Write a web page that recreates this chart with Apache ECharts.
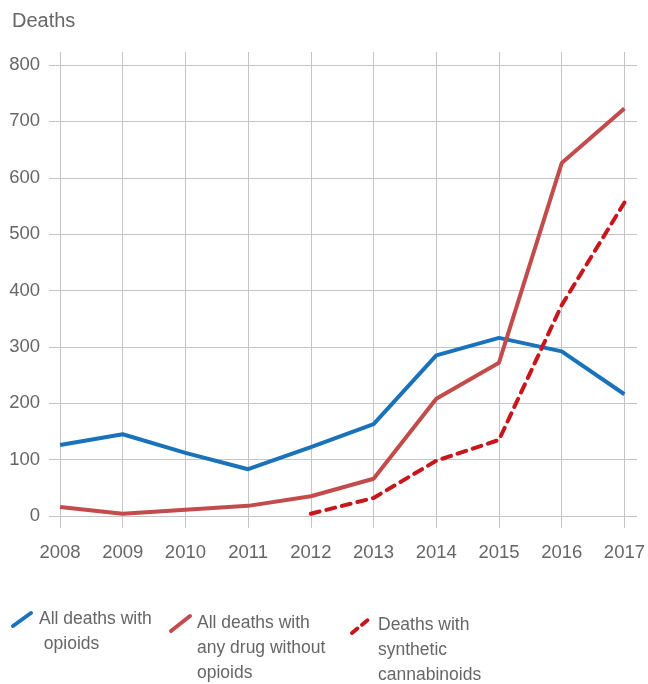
<!DOCTYPE html>
<html>
<head>
<meta charset="utf-8">
<script src="https://cdn.jsdelivr.net/npm/echarts@6/dist/echarts.min.js"></script>
<style>
  html, body { margin: 0; padding: 0; background: #fff; }
  #chart { width: 648px; height: 684px; }
</style>
</head>
<body>
<div id="chart"></div>
<script>
// data
var years = ['2008', '2009', '2010', '2011', '2012', '2013', '2014', '2015', '2016', '2017']
var withOpioids = [126, 145, 112, 83, 122, 163, 285, 316, 292, 216]
var withoutOpioids = [16, 4, 11, 18, 35, 66, 208, 272, 626, 723]
var synthCannabinoids = [null, null, null, null, 4, 32, 98, 135, 374, 556]
var yTicks = { min: 0, max: 800, step: 100 }

var names = ['All deaths with\n opioids', 'All deaths with\nany drug without\nopioids', 'Deaths with\nsynthetic\ncannabinoids']
var colors = ['#1a72ba', '#c24b4b', '#c8161d']

var fontFamily = '"Liberation Sans", Arial, sans-serif'
var textColor = '#666666'
var gridColor = '#c4c4c4'

// the value grid is 65..516 px tall for 0..800; the year grid reaches a bit further
var pxPerUnit = (516 - 65) / (yTicks.max - yTicks.min)

var chart = echarts.init(document.getElementById('chart'))

chart.setOption({
  animation: false,
  title: {
    text: 'Deaths',
    left: 7,
    top: 6,
    textStyle: { fontFamily: fontFamily, fontSize: 20, fontWeight: 'normal', color: textColor }
  },
  grid: [
    { left: 49, right: 11, top: 65, bottom: 168 },
    { left: 60, right: 23, top: 52, bottom: 156 }
  ],
  xAxis: [
    { gridIndex: 0, type: 'value', show: false, min: 0, max: 1 },
    {
      gridIndex: 1,
      type: 'category',
      data: years,
      boundaryGap: false,
      axisLine: { show: false },
      axisTick: { show: false },
      axisLabel: { margin: 15, fontFamily: fontFamily, fontSize: 18.5, color: textColor },
      splitLine: { show: true, lineStyle: { color: gridColor, width: 1 } }
    }
  ],
  yAxis: [
    {
      gridIndex: 0,
      type: 'value',
      min: yTicks.min,
      max: yTicks.max,
      interval: yTicks.step,
      axisLine: { show: false },
      axisTick: { show: false },
      axisLabel: { margin: 9, fontFamily: fontFamily, fontSize: 18.5, color: textColor },
      splitLine: { lineStyle: { color: gridColor, width: 1 } }
    },
    {
      gridIndex: 1,
      type: 'value',
      show: false,
      min: yTicks.min - 12 / pxPerUnit,
      max: yTicks.max + 13 / pxPerUnit,
      splitLine: { show: false }
    }
  ],
  series: [
    {
      name: names[0],
      type: 'line',
      xAxisIndex: 1,
      yAxisIndex: 1,
      data: withOpioids,
      symbol: 'none',
      lineStyle: { color: colors[0], width: 4 }
    },
    {
      name: names[1],
      type: 'line',
      xAxisIndex: 1,
      yAxisIndex: 1,
      data: withoutOpioids,
      symbol: 'none',
      lineStyle: { color: colors[1], width: 4 }
    },
    {
      name: names[2],
      type: 'line',
      xAxisIndex: 1,
      yAxisIndex: 1,
      data: synthCannabinoids,
      symbol: 'none',
      lineStyle: { color: colors[2], width: 4, type: [9, 7], cap: 'round' }
    }
  ],
  graphic: [
    { type: 'line', shape: { x1: 13, y1: 626, x2: 31, y2: 613 }, style: { stroke: colors[0], lineWidth: 4, lineCap: 'round' } },
    { type: 'text', left: 39, top: 607, style: { text: names[0], fontFamily: fontFamily, fontSize: 17.5, lineHeight: 25, fill: textColor } },
    { type: 'line', shape: { x1: 171, y1: 631, x2: 190, y2: 616 }, style: { stroke: colors[1], lineWidth: 4, lineCap: 'round' } },
    { type: 'text', left: 197, top: 611, style: { text: names[1], fontFamily: fontFamily, fontSize: 17.5, lineHeight: 25, fill: textColor } },
    { type: 'line', shape: { x1: 352, y1: 633, x2: 369, y2: 619 }, style: { stroke: colors[2], lineWidth: 4, lineCap: 'round', lineDash: [7, 6] } },
    { type: 'text', left: 378, top: 613, style: { text: names[2], fontFamily: fontFamily, fontSize: 17.5, lineHeight: 25, fill: textColor } }
  ]
})
</script>
</body>
</html>
